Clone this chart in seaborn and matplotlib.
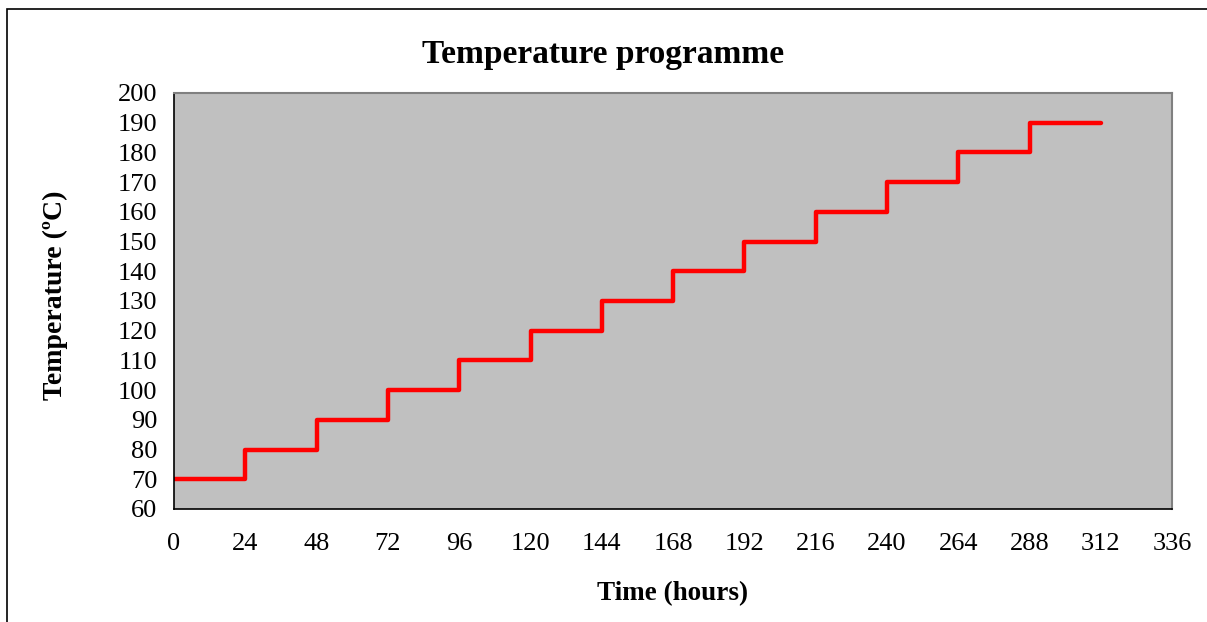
import numpy as np
import pandas as pd
import matplotlib
matplotlib.use("Agg")
import matplotlib.pyplot as plt
import seaborn as sns

# step programme: hold each temperature for 24 h
hours = [0, 24, 48, 72, 96, 120, 144, 168, 192, 216, 240, 264, 288, 312]
temps = [70, 80, 90, 100, 110, 120, 130, 140, 150, 160, 170, 180, 190, 190]
x_ticks = list(range(0, 337, 24))
y_ticks = list(range(60, 201, 10))

df = pd.DataFrame({"hours": hours, "temp": temps})

sns.set_style("white")
plt.rcParams["font.family"] = ["Liberation Serif", "DejaVu Serif"]
plt.rcParams["text.color"] = "black"

fig = plt.figure(figsize=(12.07, 6.22), dpi=100)
ax = fig.add_axes([0.1442, 0.1817, 0.8269, 0.6688])
ax.set_facecolor("#C0C0C0")

sns.lineplot(data=df, x="hours", y="temp", ax=ax, color="#FF0000",
             linewidth=3.2, drawstyle="steps-post")

ax.set_xlim(0, 336)
ax.set_ylim(60, 200)
ax.set_xticks(x_ticks)
ax.set_yticks(y_ticks)
ax.tick_params(axis="both", labelsize=19, colors="black", direction="out")
ax.tick_params(axis="x", length=5, width=1, pad=12)
ax.tick_params(axis="y", length=5, width=1, pad=7)
ax.set_xlabel("")
ax.set_ylabel("")

for s in ["left", "bottom"]:
    ax.spines[s].set_color("black")
    ax.spines[s].set_linewidth(1.2)
for s in ["top", "right"]:
    ax.spines[s].set_color("#808080")
    ax.spines[s].set_linewidth(1.5)

fig.text(0.5, 0.912, "Temperature programme", ha="center", va="center",
         fontsize=24, fontweight="bold")
fig.text(0.5575, 0.045, "Time (hours)", ha="center", va="center",
         fontsize=19.5, fontweight="bold")
fig.text(0.046, 0.525, "Temperature (ºC)", ha="center", va="center",
         rotation=90, fontsize=20, fontweight="bold")

# outer chart border (cropped at right and bottom)
border = plt.Rectangle((7 / 1207, -0.1), 1.2, 1.1 - 9 / 622,
                       transform=fig.transFigure, fill=False,
                       edgecolor="black", linewidth=1.2)
fig.add_artist(border)

fig.savefig("out.png", dpi=100)
